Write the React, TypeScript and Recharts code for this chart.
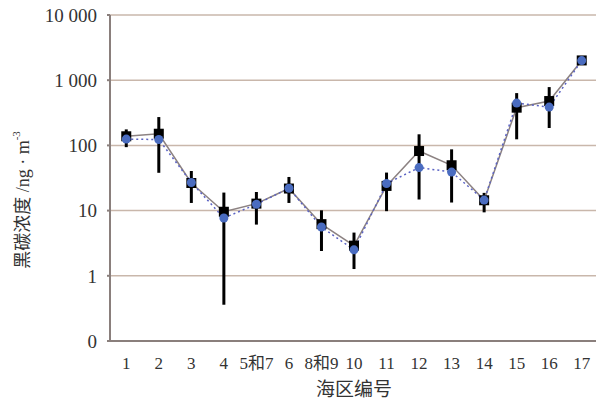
import { LineChart, Line, XAxis, YAxis, CartesianGrid, ErrorBar, Label } from 'recharts';

const categories = ['1', '2', '3', '4', '5和7', '6', '8和9', '10', '11', '12', '13', '14', '15', '16', '17'];
const measured = [138, 151, 26.5, 9.6, 12.8, 21.8, 6.2, 2.9, 23.9, 82, 49.6, 14.4, 379, 479, 2010];
const modeled = [125, 123, 27, 7.7, 12.5, 22, 5.6, 2.5, 26, 45.7, 39, 14.5, 446, 387, 2000];
const errLow = [94, 38, 13.1, 0.36, 6.1, 13.1, 2.4, 1.27, 9.8, 14.8, 13.3, 9.4, 124, 185, 2010];
const errHigh = [176, 272, 40.5, 18.9, 19.3, 32.8, 10.1, 4.6, 38.3, 148, 87, 18.7, 634, 784, 2010];
const yTicks = [0.1, 1, 10, 100, 1000, 10000];
// band boundaries between categories, for the small tick marks on the x axis
const boundaryTicks = categories.slice(1).map((_, i) => i + 1);

const data = categories.map((c, i) => ({
  name: c,
  measured: measured[i],
  modeled: modeled[i],
  err: [measured[i] - errLow[i], errHigh[i] - measured[i]],
}));

const FONT = "'Liberation Serif', 'Noto Sans CJK SC', serif";
const AXIS = '#8a7f7c';
const GRID = '#c9b7ab';

const fmtY = (v: number) => (v < 1 ? '0' : String(v).replace(/\B(?=(\d{3})+(?!\d))/g, ' '));

const XTick = (props: any) => {
  const { x, y, payload } = props;
  return (
    <text x={x} y={Number(y) + 26} textAnchor="middle" fontSize={17} fontFamily={FONT} fill="#333">
      {payload.value}
    </text>
  );
};

const Square = (props: any) => {
  const { cx, cy } = props;
  if (cx == null || cy == null) return null;
  return <rect x={cx - 5} y={cy - 5} width={10} height={10} fill="#000" />;
};

const BlueDot = (props: any) => {
  const { cx, cy } = props;
  if (cx == null || cy == null) return null;
  return <circle cx={cx} cy={cy} r={4.5} fill="#4a6cc0" />;
};

const YTitle = (props: any) => {
  const vb = props.viewBox || { x: 0, y: 15, width: 110, height: 326 };
  const cx = vb.x + 23;
  const cy = vb.y + vb.height / 2 + 22;
  return (
    <text
      x={cx}
      y={cy}
      transform={`rotate(-90, ${cx}, ${cy})`}
      textAnchor="middle"
      dominantBaseline="central"
      fontSize={18}
      fontFamily={FONT}
      fill="#333"
    >
      黑碳浓度 /ng · m
      <tspan dy={-7} fontSize={11}>
        -3
      </tspan>
    </text>
  );
};

const XTitle = (props: any) => {
  const vb = props.viewBox || { x: 110, y: 341, width: 488, height: 60 };
  return (
    <text x={vb.x + vb.width / 2} y={396} textAnchor="middle" fontSize={19} fontFamily={FONT} fill="#333">
      海区编号
    </text>
  );
};

export default function App() {
  return (
    <div style={{ position: 'absolute', left: 0, top: 0, width: 596, height: 401, overflow: 'hidden', background: '#fff' }}>
      <LineChart width={600} height={401} data={data} margin={{ top: 15, right: 2, bottom: 0, left: 0 }}>
        <CartesianGrid horizontal vertical={false} stroke={GRID} strokeWidth={1.5} />
        <XAxis
          xAxisId="marks"
          type="number"
          domain={[0, categories.length]}
          ticks={boundaryTicks}
          mirror
          height={0}
          axisLine={false}
          tick={false}
          tickSize={6}
          tickLine={{ stroke: '#a89a92', strokeWidth: 1.5 }}
        />
        <XAxis
          dataKey="name"
          scale="band"
          height={60}
          stroke={AXIS}
          strokeWidth={2}
          tickLine={false}
          tickSize={0}
          tick={<XTick />}
          interval={0}
        >
          <Label content={<XTitle />} />
        </XAxis>
        <YAxis
          scale="log"
          domain={[0.1, 10000]}
          ticks={yTicks}
          allowDataOverflow
          width={110}
          stroke={AXIS}
          strokeWidth={2}
          tickSize={3}
          tickMargin={10}
          tickFormatter={fmtY}
          tick={{ fontSize: 19, fontFamily: FONT, fill: '#333' }}
        >
          <Label content={<YTitle />} />
        </YAxis>
        <Line
          type="linear"
          dataKey="measured"
          stroke="#8c8282"
          strokeWidth={1.5}
          dot={<Square />}
          activeDot={false}
          isAnimationActive={false}
        >
          <ErrorBar dataKey="err" direction="y" width={0} strokeWidth={3} stroke="#000" />
        </Line>
        <Line
          type="linear"
          dataKey="modeled"
          stroke="#5b63c4"
          strokeWidth={1.5}
          strokeDasharray="2 3"
          dot={<BlueDot />}
          activeDot={false}
          isAnimationActive={false}
        />
      </LineChart>
    </div>
  );
}
